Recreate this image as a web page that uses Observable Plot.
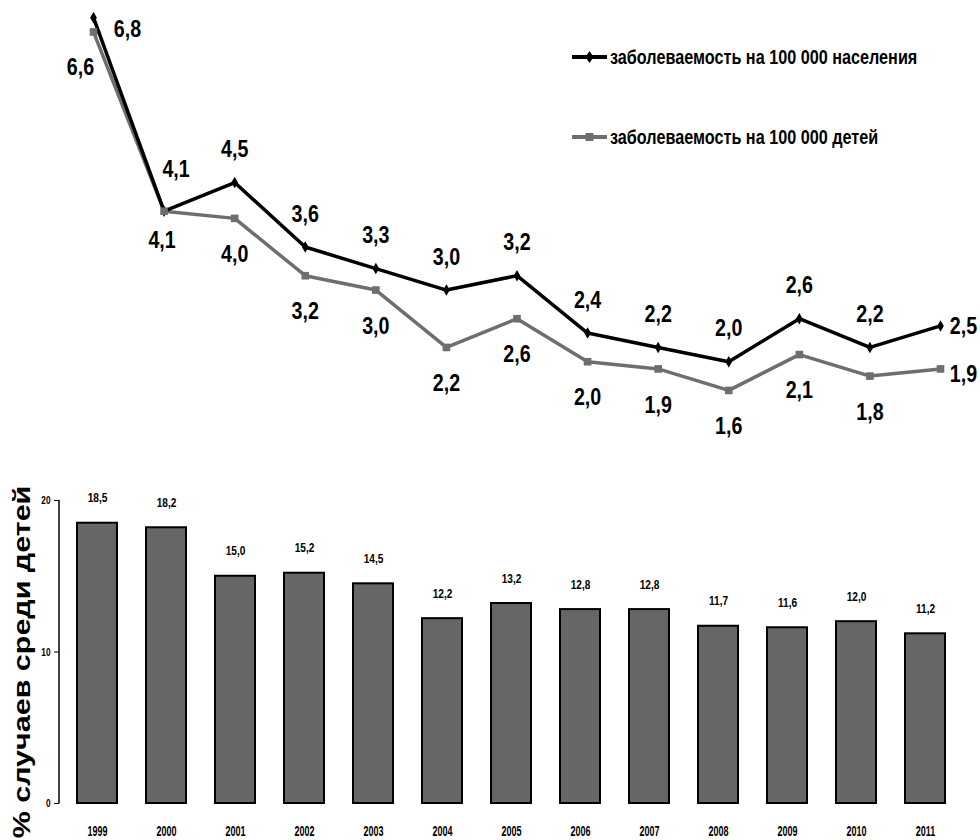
<!DOCTYPE html>
<html>
<head>
<meta charset="utf-8">
<script src="https://cdn.jsdelivr.net/npm/d3@7"></script>
<script src="https://cdn.jsdelivr.net/npm/@observablehq/plot@0.6"></script>
<style>
  html, body { margin: 0; padding: 0; background: #fff; }
  #wrap { position: relative; width: 980px; }
  #wrap > svg { display: block; }
  .legend { position: absolute; left: 572px; font-family: "Liberation Sans", Arial, sans-serif; font-weight: bold; font-size: 20px; line-height: 23px; color: #000; display: flex; align-items: center; white-space: nowrap; }
  .legend svg { display: inline-block; margin-right: 3px; }
  .legend span { display: inline-block; transform: scaleX(0.81); transform-origin: left center; }
</style>
</head>
<body>
<div id="wrap"></div>
<script>
// ---- data ----
const years = [1999, 2000, 2001, 2002, 2003, 2004, 2005, 2006, 2007, 2008, 2009, 2010, 2011];
const incidencePopulation = [6.8, 4.1, 4.5, 3.6, 3.3, 3.0, 3.2, 2.4, 2.2, 2.0, 2.6, 2.2, 2.5];
const incidenceChildren = [6.6, 4.1, 4.0, 3.2, 3.0, 2.2, 2.6, 2.0, 1.9, 1.6, 2.1, 1.8, 1.9];
const childShare = [18.5, 18.2, 15.0, 15.2, 14.5, 12.2, 13.2, 12.8, 12.8, 11.7, 11.6, 12.0, 11.2];
const seriesNames = ["заболеваемость на 100 000 населения", "заболеваемость на 100 000 детей"];
const yAxisLabel = "% случаев среди детей";
const barTicks = [0, 10, 20];

// ---- styles ----
const FONT = '"Liberation Sans", Arial, sans-serif';
const GRAY = "#6e6e6e";
const BAR = "#666666";
const fmt = v => v.toFixed(1).replace(".", ",");

const pop = years.map((year, i) => ({year, value: incidencePopulation[i], i}));
const kids = years.map((year, i) => ({year, value: incidenceChildren[i], i}));
const bars = years.map((year, i) => ({year, value: childShare[i]}));
const last = years.length - 1;
const mid = d => d.i > 1 && d.i < last;

const wrap = document.getElementById("wrap");

const lab = (data, filter, dx, dy) =>
  Plot.text(data, {filter, x: "year", y: "value", text: d => fmt(d.value), dx, dy, fontSize: 24});

const linePlot = Plot.plot({
  width: 980, height: 440,
  marginLeft: 93, marginRight: 40, marginTop: 2.8, marginBottom: 42.9,
  x: {domain: [1999, 2011], axis: null},
  y: {domain: [1.5, 7], axis: null},
  style: {fontFamily: FONT, fontWeight: "bold", background: "transparent", color: "black"},
  marks: [
    Plot.line(kids, {x: "year", y: "value", stroke: GRAY, strokeWidth: 3.5}),
    Plot.line(pop, {x: "year", y: "value", stroke: "black", strokeWidth: 3.5}),
    Plot.dot(pop, {x: "year", y: "value", symbol: "diamond", r: 3.5, fill: "black", stroke: "none"}),
    Plot.dot(kids, {x: "year", y: "value", symbol: "square", r: 4.3, fill: GRAY, stroke: "none"}),
    lab(pop, mid, 0, -33),
    lab(pop, d => d.i === 0, 34, 12),
    lab(pop, d => d.i === 1, 12, -42),
    lab(pop, d => d.i === last, 23, 0),
    lab(kids, mid, 0, 36),
    lab(kids, d => d.i === 0, -13, 35),
    lab(kids, d => d.i === 1, -2, 29),
    lab(kids, d => d.i === last, 23, 5)
  ]
});
wrap.appendChild(linePlot);

const barPlot = Plot.plot({
  width: 980, height: 400,
  marginLeft: 59, marginRight: 0, marginTop: 60, marginBottom: 37,
  x: {type: "band", domain: years, padding: 0.42, range: [45.2, 977.4], tickSize: 0, tickPadding: 22, label: null, tickFormat: d => `${d}`},
  y: {domain: [0, 20], ticks: barTicks, tickSize: 5, tickPadding: 4, label: null, tickFormat: d => `${d}`},
  style: {fontFamily: FONT, fontWeight: "bold", fontSize: "15px", background: "transparent", color: "black"},
  marks: [
    Plot.barY(bars, {x: "year", y: "value", fill: BAR, stroke: "black", strokeWidth: 2}),
    Plot.text(bars, {x: "year", y: "value", text: d => fmt(d.value), dy: -25, fontSize: 13}),
    Plot.text([yAxisLabel], {frameAnchor: "left", text: d => d, textAnchor: "middle", dx: -37, dy: 10, rotate: -90, fontSize: 24})
  ]
});
wrap.appendChild(barPlot);

// y-axis line of the bar chart, from the plot's own y scale
const ys = barPlot.scale("y");
d3.select(barPlot).append("line")
  .attr("x1", 59).attr("x2", 59)
  .attr("y1", ys.apply(barTicks[0]) + 0.5).attr("y2", ys.apply(barTicks[barTicks.length - 1]))
  .attr("stroke", "black").attr("stroke-width", 1.5);

// condense the text horizontally (the reference uses a narrow bold face)
function squeeze(el, sx, sy) {
  const tr = el.getAttribute("transform") || "";
  el.setAttribute("transform", `${tr} scale(${sx},${sy})`.trim());
}
d3.select(linePlot).selectAll("text").each(function() { squeeze(this, 0.82, 1); });
d3.select(barPlot).selectAll("text").each(function() {
  const t = this.textContent;
  if (t === yAxisLabel) squeeze(this, 1.27, 1);
  else if (/^\d{4}$/.test(t)) squeeze(this, 0.6, 1);
  else if (/^\d+$/.test(t)) { this.setAttribute("font-size", 11); squeeze(this, 0.75, 1); }
  else squeeze(this, 0.78, 1);
});

// legend (HTML, above the SVG)
const legendRows = [
  {name: seriesNames[0], color: "black", symbol: "diamond", top: 45.5},
  {name: seriesNames[1], color: GRAY, symbol: "square", top: 125.5}
];
for (const row of legendRows) {
  const div = document.createElement("div");
  div.className = "legend";
  div.style.top = row.top + "px";
  const marker = row.symbol === "diamond"
    ? `<path d="M17.5,1 L21.5,7 L17.5,13 L13.5,7 Z" fill="${row.color}"/>`
    : `<rect x="13.5" y="3" width="8" height="8" fill="${row.color}"/>`;
  div.innerHTML = `<svg width="35" height="14"><line x1="0" x2="35" y1="7" y2="7" stroke="${row.color}" stroke-width="4"/>${marker}</svg><span>${row.name}</span>`;
  wrap.appendChild(div);
}
</script>
</body>
</html>
